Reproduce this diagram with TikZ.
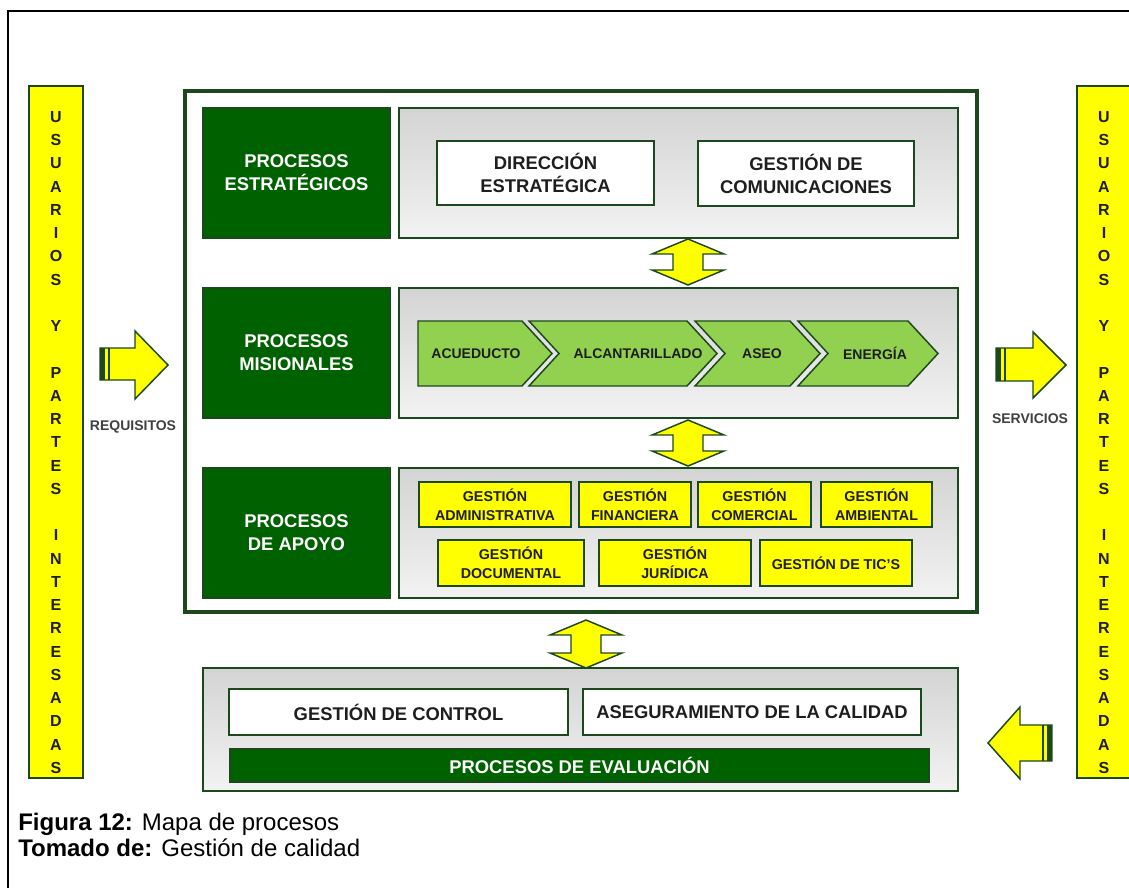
\documentclass[tikz,border=0pt]{standalone}
\usepackage{fontspec}
\setmainfont{Liberation Sans}
\usetikzlibrary{calc}
\definecolor{verdeosc}{RGB}{0,97,0}
\definecolor{borde}{RGB}{28,72,28}
\definecolor{verdecl}{RGB}{146,208,80}
\definecolor{amarillo}{RGB}{255,255,0}
\definecolor{texto}{RGB}{30,30,30}
\newcommand\letrascol{U\\S\\U\\A\\R\\I\\O\\S\\~\\Y\\~\\P\\A\\R\\T\\E\\S\\~\\I\\N\\T\\E\\R\\E\\S\\A\\D\\A\\S}
\tikzset{
	wh/.style 2 args={minimum width=#1*0.75pt,minimum height=#2*0.75pt},
	caja/.style={draw=borde,line width=1.1pt,inner sep=0pt,align=center},
	proc/.style={caja,fill=verdeosc,text=white,font=\bfseries\fontsize{13.8}{17.25}\selectfont},
	panel/.style={caja,top color=black!17,bottom color=black!5},
	blanca/.style={caja,fill=white,text=texto,font=\bfseries\fontsize{13.8}{17.25}\selectfont},
	amar/.style={caja,fill=amarillo,text=texto,font=\bfseries\fontsize{10.7}{14}\selectfont},
	barra/.style={caja,fill=amarillo},
	letras/.style={align=center,inner sep=0pt,text=texto,font=\bfseries\fontsize{12}{17.44}\selectfont},
	flecha/.style={draw=borde,line width=1.1pt,fill=amarillo},
	cheuron/.style={draw=borde,line width=1.1pt,fill=verdecl},
	rotulo/.style={text=texto,font=\bfseries\fontsize{10.5}{12}\selectfont},
	pie/.style={anchor=base west,inner sep=0pt,font=\fontsize{18}{21}\selectfont}
}
\begin{document}
\begin{tikzpicture}[
	x=0.75pt,y=-0.75pt
]
\useasboundingbox (0,0) rectangle (1129,888);
\draw[line width=0.9pt] (8,892) -- (8,11) -- (1135,11);
% columnas laterales
\node[barra,wh={54}{692}] (usuarios) at (56,432) {};
\node[letras] (col1) at (56,442.5) {\letrascol};
\node[barra,wh={54}{692}] (partes) at (1104,432) {};
\node[letras] (col2) at (1104,442.5) {\letrascol};
% marco principal
\node[draw=borde,line width=2.4pt,wh={792}{521}] (marco) at (581,351.5) {};
\node[proc,wh={187}{130}] (pest) at (296.5,173) {PROCESOS\\ESTRATÉGICOS};
\node[proc,wh={187}{130}] (pmis) at (296.5,353) {PROCESOS\\MISIONALES};
\node[proc,wh={187}{130}] (papo) at (296.5,533) {PROCESOS\\DE APOYO};
\node[panel,wh={559}{130}] (est) at (678.5,173) {};
\node[panel,wh={559}{130}] (mis) at (678.5,353) {};
\node[panel,wh={559}{130}] (apo) at (678.5,533) {};
\node[blanca,wh={217}{64}] (dir) at (545.5,173) {DIRECCIÓN\\ESTRATÉGICA};
\node[blanca,wh={216}{65}] (com) at (806,173.5) {GESTIÓN DE\\COMUNICACIONES};
% cadena de valor
\foreach \a/\b/\n/\t/\c/\nom in {418/522/0/476/ACUEDUCTO/acu,529/687/30/638/ALCANTARILLADO/alc,695/790/30/762/ASEO/aseo,798/908/30/875/ENERGÍA/ene}{
	\draw[cheuron] (\a,321) -- (\b,321) -- (\b+30,353.5) -- (\b,386) -- (\a,386) -- (\a+\n,353.5) -- cycle;
	\node[rotulo] (\nom) at (\t,353.5) {\c};
}
% apoyo
\node[amar,wh={152}{45}] (adm) at (495,504.5) {GESTIÓN\\ADMINISTRATIVA};
\node[amar,wh={112}{45}] (fin) at (635,504.5) {GESTIÓN\\FINANCIERA};
\node[amar,wh={113}{45}] (cml) at (754.5,504.5) {GESTIÓN\\COMERCIAL};
\node[amar,wh={111}{45}] (amb) at (876.5,504.5) {GESTIÓN\\AMBIENTAL};
\node[amar,wh={146}{46}] (doc) at (511,563) {GESTIÓN\\DOCUMENTAL};
\node[amar,wh={152}{46}] (jur) at (675,563) {GESTIÓN\\JURÍDICA};
\node[amar,wh={152}{46}] (tic) at (836,563) {GESTIÓN DE TIC'S};
% evaluacion
\node[panel,wh={755}{123}] (eva) at (580.5,729.5) {};
\node[blanca,wh={339}{46}] (ctl) at (398.5,712) {GESTIÓN DE CONTROL};
\node[blanca,wh={338}{46}] (cal) at (752,712) {ASEGURAMIENTO DE LA CALIDAD};
\node[proc,wh={699}{33}] (pev) at (579.5,765.5) {PROCESOS DE EVALUACIÓN};
% flechas dobles
\foreach \cx/\ya/\yb in {688/239/285,688/420/466,586/620/668}
	\draw[flecha] (\cx,\ya) -- ++(36,15) -- ++(-21,0) -- (\cx+15,\yb-15) -- ++(21,0) -- (\cx,\yb) -- ++(-36,-15) -- ++(21,0) -- (\cx-15,\ya+15) -- ++(-21,0) -- cycle;
% entradas y salidas
\draw[flecha] (100,348) -- (135,348) -- (135,331) -- (168,365) -- (135,399) -- (135,380) -- (100,380) -- cycle;
\fill[borde] (100,348) rectangle (105,380);
\draw[borde,line width=1.4pt] (109,348) -- (109,380);
\node[rotulo,text=black!75] (req) at (133,427) {REQUISITOS};
\draw[flecha] (996,348) -- (1033,348) -- (1033,332) -- (1066,365) -- (1033,398) -- (1033,381) -- (996,381) -- cycle;
\fill[borde] (996,348) rectangle (1001,381);
\draw[borde,line width=1.4pt] (1005,348) -- (1005,381);
\node[rotulo,text=black!75] (ser) at (1030,419) {SERVICIOS};
\draw[flecha] (1052,725) -- (1020,725) -- (1020,707) -- (988,743) -- (1020,779) -- (1020,761) -- (1052,761) -- cycle;
\fill[borde] (1047,725) rectangle (1052,761);
\draw[borde,line width=1.4pt] (1043,725) -- (1043,761);
% pie
\node[pie] (pie1) at (18,830) {\textbf{Figura 12:} Mapa de procesos};
\node[pie] (pie2) at (18,856) {\textbf{Tomado de:} Gestión de calidad};
\end{tikzpicture}
\end{document}
